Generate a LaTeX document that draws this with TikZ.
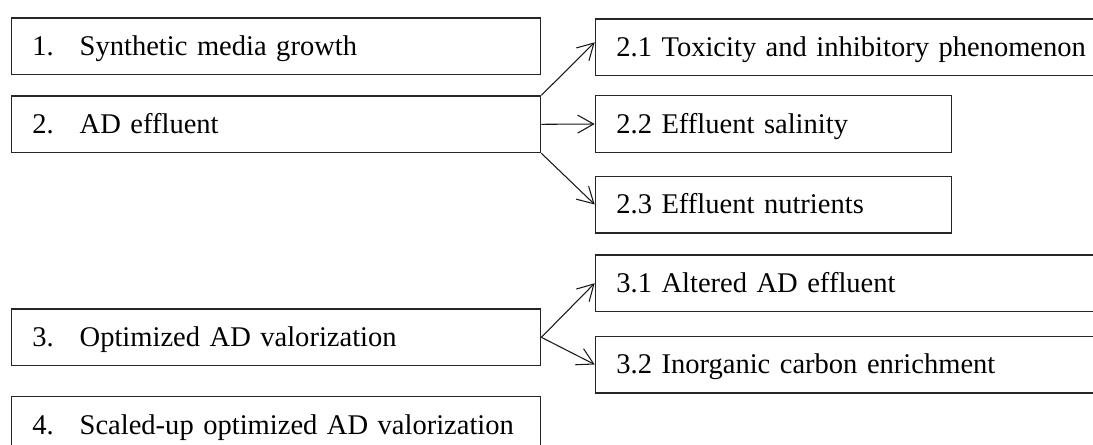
\documentclass[tikz,border=0pt]{standalone}
\usepackage{fontspec}
\setmainfont{Liberation Serif}
\usetikzlibrary{arrows.meta}
\begin{document}
\begin{tikzpicture}[x=0.75pt,y=-0.75pt,
  box/.style={draw=black!85, line width=1pt, rectangle, anchor=north west,
    minimum height=42.5pt, inner xsep=15.75pt, inner ysep=0pt,
    text height=14.1pt, text depth=0pt, align=left,
    font=\fontsize{21.4}{25}\selectfont},
  mainbox/.style={box, minimum width=397pt, text width=365.5pt},
  midbox/.style={box, minimum width=267.2pt, text width=235.7pt},
  widebox/.style={box, minimum width=390pt, text width=358.5pt},
  arr/.style={draw=black!90, line width=0.8pt, -{Straight Barb[length=12pt,width=13.5pt]}}
]
\useasboundingbox (0,0) rectangle (1093,444);
\clip (0,0) rectangle (1093,444);
\newcommand{\numlbl}[1]{\makebox[35.5pt][l]{#1}}
\node[mainbox] (b1) at (10.7,17.3) {\numlbl{1.}Synthetic media growth};
\node[mainbox] (b2) at (10.7,95.3) {\numlbl{2.}AD effluent};
\node[mainbox] (b3) at (10.7,308.3) {\numlbl{3.}Optimized AD valorization};
\node[mainbox] (b4) at (10.7,395.7) {\numlbl{4.}Scaled-up optimized AD valorization};
\node[widebox] (b21) at (594.7,18.3) {2.1 Toxicity and inhibitory phenomenon};
\node[midbox] (b22) at (594.7,95) {2.2 Effluent salinity};
\node[midbox] (b23) at (594.7,175.5) {2.3 Effluent nutrients};
\node[widebox] (b31) at (594.7,254.2) {3.1 Altered AD effluent};
\node[widebox] (b32) at (594.7,335.5) {3.2 Inorganic carbon enrichment};
\draw[arr] (b2.north east) -- ([yshift=3.75pt]b21.west);
\draw[arr] (b2.east) -- (b22.west);
\draw[arr] (b2.south east) -- (b23.west);
\draw[arr] (b3.east) -- (b31.west);
\draw[arr] (b3.east) -- (b32.west);
\end{tikzpicture}
\end{document}
